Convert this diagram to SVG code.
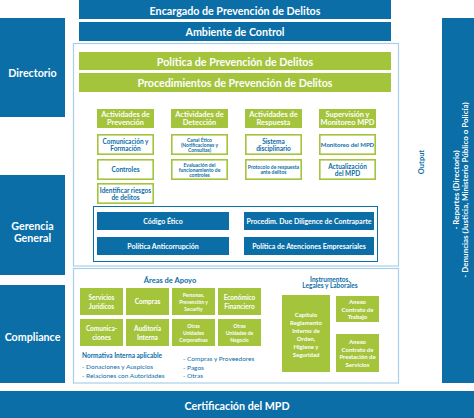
<svg xmlns="http://www.w3.org/2000/svg" width="474" height="418" viewBox="0 0 474 418">
<style>
text{font-family:Lato,"Liberation Sans","DejaVu Sans",sans-serif;font-weight:700;text-anchor:middle;dominant-baseline:central}
.b{fill:#0b6ea7}
.g{fill:#a4c43c}
.w{fill:#fff}
.tb{fill:#0b6ea7}
.gb{fill:#fff;stroke:#a4c43c;stroke-width:1.6}
.pn{fill:#fff;stroke:#a9cfe8;stroke-width:1.2}
.f10{font-size:10.7px}
.f9{font-size:9px}
.f8{font-size:8px}
.f75{font-size:7.5px}
.f7{font-size:7px}
.fh{font-size:7.4px}
.f65{font-size:6.5px}
.f6{font-size:6px}
.f5{font-size:5px}
.reg{font-weight:400}
.l{text-anchor:start}
</style>

<g id="encargado"><rect class="b" x="79" y="0" width="312" height="19"/><text class="w f10" x="235" y="10">Encargado de Prevención de Delitos</text></g>
<g id="ambiente"><rect class="b" x="79" y="22" width="312" height="19"/><text class="w f10" x="235" y="31.5">Ambiente de Control</text></g>

<g id="directorio"><rect class="b" x="0" y="18" width="65" height="99"/><text class="w f10" x="32.5" y="72">Directorio</text></g>
<g id="gerencia"><rect class="b" x="0" y="175" width="65" height="100"/><text class="w f10" x="32.5" y="225">Gerencia</text><text class="w f10" x="32.5" y="237">General</text></g>
<g id="compliance"><rect class="b" x="0" y="285" width="65" height="98"/><text class="w f10" x="32.5" y="336">Compliance</text></g>

<g id="salidas"><rect class="b" x="442" y="18" width="32" height="365"/>
<g transform="translate(0,190) rotate(-90)"><text class="w f8" x="0" y="459" style="dominant-baseline:auto">- Reportes (Directorio)</text><text class="w f8" x="0" y="468" style="dominant-baseline:auto">- Denuncias (Justicia, Ministerio Público o Policía)</text></g>
</g>
<g id="output"><g transform="translate(424,162) rotate(-90)"><text class="tb f75" x="0" y="0" style="dominant-baseline:auto">Output</text></g></g>

<g id="panel-superior"><rect class="pn" x="73.5" y="43.5" width="325" height="222.5"/></g>
<g id="politica"><rect class="g" x="79" y="52" width="312" height="18"/><text class="w f10" x="235" y="61">Política de Prevención de Delitos</text></g>
<g id="procedimientos"><rect class="g" x="79" y="73" width="312" height="19"/><text class="w f10" x="235" y="82.5">Procedimientos de Prevención de Delitos</text></g>

<g id="h-prevencion"><rect class="g" x="97" y="109" width="57" height="19"/><text class="w fh" x="125.5" y="114.5">Actividades de</text><text class="w fh" x="125.5" y="122.5">Prevención</text></g>
<g id="h-deteccion"><rect class="g" x="171" y="109" width="57" height="19"/><text class="w fh" x="199.5" y="114.5">Actividades de</text><text class="w fh" x="199.5" y="122.5">Detección</text></g>
<g id="h-respuesta"><rect class="g" x="245" y="109" width="57" height="19"/><text class="w fh" x="273.5" y="114.5">Actividades de</text><text class="w fh" x="273.5" y="122.5">Respuesta</text></g>
<g id="h-supervision"><rect class="g" x="319" y="109" width="57" height="19"/><text class="w fh" x="347.5" y="114.5">Supervisión y</text><text class="w fh" x="347.5" y="122.5">Monitoreo MPD</text></g>

<g id="comunicacion"><rect class="gb" x="97.8" y="134.8" width="55.4" height="19.4"/><text class="tb f65" x="125.5" y="141">Comunicación y</text><text class="tb f65" x="125.5" y="148">Formación</text></g>
<g id="controles"><rect class="gb" x="97.8" y="159.8" width="55.4" height="19.4"/><text class="tb f65" x="125.5" y="169.5">Controles</text></g>
<g id="identificar"><rect class="gb" x="97.8" y="183.8" width="55.4" height="19.4"/><text class="tb f65" x="125.5" y="190">Identificar riesgos</text><text class="tb f65" x="125.5" y="197">de delitos</text></g>

<g id="canal"><rect class="gb" x="171.8" y="134.8" width="55.4" height="19.4"/><text class="tb f5" x="199.5" y="139.5">Canal Ético</text><text class="tb f5" x="199.5" y="144.5">(Notificaciones y</text><text class="tb f5" x="199.5" y="149.5">Consultas)</text></g>
<g id="evaluacion"><rect class="gb" x="171.8" y="159.8" width="55.4" height="19.4"/><text class="tb f5" x="199.5" y="164.5">Evaluación del</text><text class="tb f5" x="199.5" y="169.5">funcionamiento de</text><text class="tb f5" x="199.5" y="174.5">controles</text></g>

<g id="sistema"><rect class="gb" x="245.8" y="134.8" width="55.4" height="19.4"/><text class="tb f65" x="273.5" y="141">Sistema</text><text class="tb f65" x="273.5" y="148">disciplinario</text></g>
<g id="protocolo"><rect class="gb" x="245.8" y="159.8" width="55.4" height="19.4"/><text class="tb f5" x="273.5" y="166.5">Protocolo de respuesta</text><text class="tb f5" x="273.5" y="172">ante delitos</text></g>

<g id="monitoreo"><rect class="gb" x="319.8" y="134.8" width="55.4" height="19.4"/><text class="tb f6" x="347.5" y="144.5">Monitoreo del MPD</text></g>
<g id="actualizacion"><rect class="gb" x="319.8" y="159.8" width="55.4" height="19.4"/><text class="tb f65" x="347.5" y="166">Actualización</text><text class="tb f65" x="347.5" y="173">del MPD</text></g>

<g id="marco"><rect x="93.5" y="206.5" width="284" height="55" fill="#fff" stroke="#0b6ea7" stroke-width="1"/></g>
<g id="codigo"><rect class="b" x="97" y="212" width="132" height="18"/><text class="w f7" x="163" y="221">Código Ético</text></g>
<g id="anticorrupcion"><rect class="b" x="97" y="237" width="132" height="18"/><text class="w f7" x="163" y="246">Política Anticorrupción</text></g>
<g id="due-diligence"><rect class="b" x="244" y="212" width="130" height="18"/><text class="w f7" x="309" y="221">Procedim. Due Diligence de Contraparte</text></g>
<g id="atenciones"><rect class="b" x="244" y="237" width="130" height="18"/><text class="w f7" x="309" y="246">Política de Atenciones Empresariales</text></g>

<g id="panel-inferior"><rect class="pn" x="73.5" y="268.5" width="325" height="114.5"/></g>
<g id="areas-titulo"><text class="tb f75" x="170" y="280">Áreas de Apoyo</text></g>

<g id="servicios"><rect class="g" x="80" y="288" width="43" height="27"/><text class="w f65" x="101.5" y="297.5">Servicios</text><text class="w f65" x="101.5" y="306">Jurídicos</text></g>
<g id="compras"><rect class="g" x="126" y="288" width="43" height="27"/><text class="w f65" x="147.5" y="301.5">Compras</text></g>
<g id="personas"><rect class="g" x="172" y="288" width="43" height="27"/><text class="w f5" x="193.5" y="294.5">Personas,</text><text class="w f5" x="193.5" y="301.5">Prevención y</text><text class="w f5" x="193.5" y="308.5">Security</text></g>
<g id="economico"><rect class="g" x="218" y="288" width="43" height="27"/><text class="w f65" x="239.5" y="297.5">Económico</text><text class="w f65" x="239.5" y="306">Financiero</text></g>
<g id="comunicaciones"><rect class="g" x="80" y="319" width="43" height="27"/><text class="w f65" x="101.5" y="328.5">Comunica-</text><text class="w f65" x="101.5" y="337">ciones</text></g>
<g id="auditoria"><rect class="g" x="126" y="319" width="43" height="27"/><text class="w f65" x="147.5" y="328.5">Auditoría</text><text class="w f65" x="147.5" y="337">Interna</text></g>
<g id="otras-corp"><rect class="g" x="172" y="319" width="43" height="27"/><text class="w f5" x="193.5" y="325.5">Otras</text><text class="w f5" x="193.5" y="332.5">Unidades</text><text class="w f5" x="193.5" y="339.5">Corporativas</text></g>
<g id="otras-neg"><rect class="g" x="218" y="319" width="43" height="27"/><text class="w f5" x="239.5" y="325.5">Otras</text><text class="w f5" x="239.5" y="332.5">Unidades de</text><text class="w f5" x="239.5" y="339.5">Negocio</text></g>

<g id="normativa">
<text class="tb f65 l" x="82" y="355">Normativa Interna aplicable</text>
<text class="tb f65 l reg" x="82" y="366.5">- Donaciones y Auspicios</text>
<text class="tb f65 l reg" x="82" y="375.5">- Relaciones con Autoridades</text>
<text class="tb f65 l reg" x="183" y="358.5">- Compras y Proveedores</text>
<text class="tb f65 l reg" x="183" y="367">- Pagos</text>
<text class="tb f65 l reg" x="183" y="375.5">- Otras</text>
</g>

<g id="instrumentos-titulo"><text class="tb f65" x="330" y="279">Instrumentos,</text><text class="tb f65" x="330" y="285">Legales y Laborales</text></g>
<g id="capitulo"><rect class="g" x="282" y="295" width="48" height="77"/>
<text class="w f6" x="306" y="314">Capítulo</text><text class="w f6" x="306" y="322">Reglamento</text><text class="w f6" x="306" y="330">Interno de</text><text class="w f6" x="306" y="338">Orden,</text><text class="w f6" x="306" y="346">Higiene y</text><text class="w f6" x="306" y="354">Seguridad</text></g>
<g id="anexo-trabajo"><rect class="g" x="336" y="296" width="43" height="26"/><text class="w f6" x="357.5" y="301.5">Anexo</text><text class="w f6" x="357.5" y="309">Contrato de</text><text class="w f6" x="357.5" y="316.5">Trabajo</text></g>
<g id="anexo-servicios"><rect class="g" x="336" y="334" width="43" height="38"/><text class="w f6" x="357.5" y="341.5">Anexo</text><text class="w f6" x="357.5" y="349">Contrato de</text><text class="w f6" x="357.5" y="356.5">Prestación de</text><text class="w f6" x="357.5" y="364">Servicios</text></g>

<g id="certificacion"><rect class="b" x="0" y="391" width="474" height="27"/><text class="w f10" x="237" y="405">Certificación del MPD</text></g>
<g id="connectors"></g>
</svg>
